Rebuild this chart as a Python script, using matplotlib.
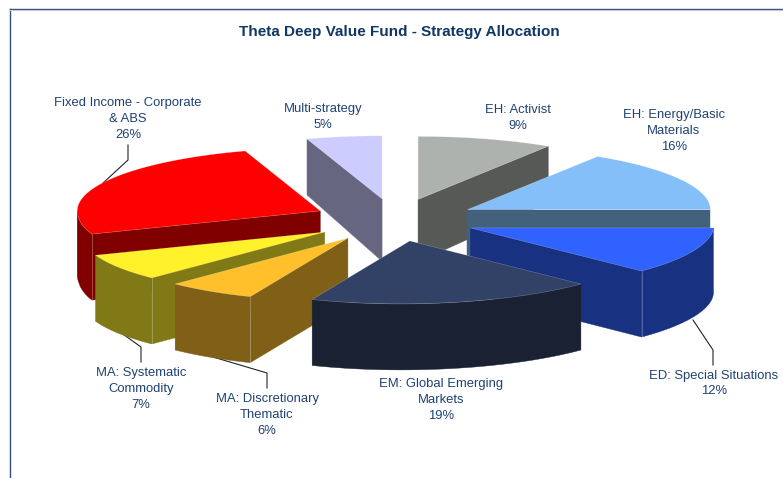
import numpy as np
import matplotlib
matplotlib.use("Agg")
import matplotlib.pyplot as plt
from matplotlib.patches import Polygon

plt.rcParams["font.family"] = ["Liberation Sans", "DejaVu Sans"]

names = ["EH: Activist", "EH: Energy/Basic\nMaterials", "ED: Special Situations",
         "EM: Global Emerging\nMarkets", "MA: Discretionary\nThematic",
         "MA: Systematic\nCommodity", "Fixed Income - Corporate\n& ABS", "Multi-strategy"]
values = [9, 16, 12, 19, 6, 7, 26, 5]
colors = ["#AEB2AE", "#85BFFA", "#2F62FF", "#324266", "#FFC02C", "#FFF22A", "#FF0000", "#CCCCFF"]

# label centres in pixels
label_x = [518, 674, 714, 441, 267, 141, 128, 323]
label_y = [118, 131, 383.5, 400, 415, 389, 119, 117]

# leader lines in pixels
leaders = [([103, 128, 128], [183, 160, 145]),
           ([120, 141, 141], [332, 347, 362]),
           ([213, 267, 267], [357, 373, 388]),
           ([693, 713, 713], [320, 350, 365])]

# back to front
draw_order = [7, 0, 1, 6, 5, 4, 2, 3]

center_x, center_y = 395, 220
rx, ry = 243, 63
explode = 0.34
text_color = "#1F4273"


def depth(y):
    return np.clip(56 + 0.11 * (y - 141), 56, 66)


def to_xy(deg, cx, cy):
    t = np.radians(deg)
    x = cx + rx * np.sin(t)
    y = cy - ry * np.cos(t)
    # front part leans left a bit, like the perspective in the original
    x = x - 0.14 * np.maximum(y - 218, 0)
    return x, y


def darker(col):
    return tuple(c * 0.5 for c in matplotlib.colors.to_rgb(col))


def wall(ax, xs, ys, col, z):
    xs = np.asarray(xs, dtype=float)
    ys = np.asarray(ys, dtype=float)
    pts = np.vstack([np.column_stack([xs, ys]),
                     np.column_stack([xs, ys + depth(ys)])[::-1]])
    ax.add_patch(Polygon(pts, closed=True, facecolor=col, edgecolor=col, linewidth=0.3, zorder=z))


fig = plt.figure(figsize=(7.83, 4.78), dpi=100)
ax = fig.add_axes([0, 0, 1, 1])
ax.set_xlim(0, 783)
ax.set_ylim(478, 0)
ax.axis("off")

# chart frame
ax.plot([9.5, 9.5], [478, 8.5], color="#3B4A7C", lw=1, zorder=1)
ax.plot([9.5, 783], [8.5, 8.5], color="#3B4A7C", lw=1, zorder=1)
ax.plot([10, 783], [9.8, 9.8], color="#C5CAD6", lw=0.8, zorder=1)

ends = np.cumsum(values) * 3.6
starts = ends - np.array(values) * 3.6

for n, i in enumerate(draw_order):
    a, b = starts[i], ends[i]
    mid = (a + b) / 2
    cx = center_x + explode * rx * np.sin(np.radians(mid))
    cy = center_y - explode * ry * np.cos(np.radians(mid))
    ax_x = cx - 0.14 * max(cy - 218, 0)
    z = 2 + n * 0.1
    side = darker(colors[i])

    # radial walls that face the viewer
    if a >= 180:
        x1, y1 = to_xy(a, cx, cy)
        wall(ax, [ax_x, x1], [cy, y1], side, z)
    if b <= 180:
        x1, y1 = to_xy(b, cx, cy)
        wall(ax, [ax_x, x1], [cy, y1], side, z)

    # outer wall, front half only
    lo, hi = max(a, 90), min(b, 270)
    if lo < hi:
        t = np.linspace(lo, hi, 80)
        xs, ys = to_xy(t, cx, cy)
        wall(ax, xs, ys, side, z + 0.01)
        if 180 <= a <= 270 or 90 <= b <= 180:
            # seam where the outer wall meets a radial wall
            corner = a if a >= 180 else b
            sx, sy = to_xy(corner, cx, cy)
            ax.plot([sx, sx], [sy, sy + depth(sy)], color="white", alpha=0.3, lw=0.6, zorder=z + 0.02)

    # top face
    t = np.linspace(a, b, 120)
    xs, ys = to_xy(t, cx, cy)
    pts = np.vstack([[ax_x, cy], np.column_stack([xs, ys])])
    ax.add_patch(Polygon(pts, closed=True, facecolor=colors[i], edgecolor=(1, 1, 1, 0.3),
                         linewidth=0.4, zorder=z + 0.03))

for lx, ly in leaders:
    ax.plot(lx, ly, color="#222222", lw=0.8, zorder=1.5)

for i in range(len(values)):
    ax.text(label_x[i], label_y[i], f"{names[i]}\n{values[i]}%", ha="center", va="center",
            fontsize=9.4, color=text_color, linespacing=1.42, zorder=5)

ax.text(399.5, 31.5, "Theta Deep Value Fund - Strategy Allocation", ha="center", va="center",
        fontsize=10.95, fontweight="bold", color="#0F3766", zorder=5)

fig.savefig("out.png", dpi=100)
